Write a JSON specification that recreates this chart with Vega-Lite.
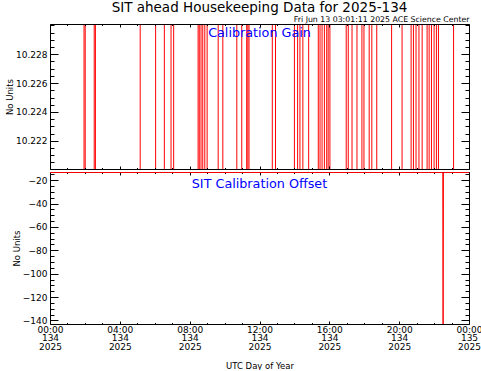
{
  "$schema": "https://vega.github.io/schema/vega-lite/v6.json",
  "background": "white",
  "padding": {"left": 5, "top": 1, "right": 0, "bottom": 0},
  "datasets": {
    "gain": [
      {"t": "2025-05-14T00:00:00Z", "gain": 10.2200},
      {"t": "2025-05-14T01:57:00Z", "gain": 10.2301},
      {"t": "2025-05-14T02:01:00Z", "gain": 10.2200},
      {"t": "2025-05-14T02:32:00Z", "gain": 10.2301},
      {"t": "2025-05-14T02:36:00Z", "gain": 10.2200},
      {"t": "2025-05-14T05:10:00Z", "gain": 10.2301},
      {"t": "2025-05-14T06:03:00Z", "gain": 10.2200},
      {"t": "2025-05-14T06:33:00Z", "gain": 10.2301},
      {"t": "2025-05-14T06:56:00Z", "gain": 10.2200},
      {"t": "2025-05-14T07:05:00Z", "gain": 10.2301},
      {"t": "2025-05-14T08:29:00Z", "gain": 10.2200},
      {"t": "2025-05-14T08:33:00Z", "gain": 10.2301},
      {"t": "2025-05-14T08:39:00Z", "gain": 10.2200},
      {"t": "2025-05-14T08:45:00Z", "gain": 10.2301},
      {"t": "2025-05-14T08:52:00Z", "gain": 10.2200},
      {"t": "2025-05-14T09:00:00Z", "gain": 10.2301},
      {"t": "2025-05-14T09:38:00Z", "gain": 10.2200},
      {"t": "2025-05-14T09:54:00Z", "gain": 10.2301},
      {"t": "2025-05-14T10:42:00Z", "gain": 10.2200},
      {"t": "2025-05-14T10:59:00Z", "gain": 10.2301},
      {"t": "2025-05-14T11:16:00Z", "gain": 10.2200},
      {"t": "2025-05-14T11:20:00Z", "gain": 10.2301},
      {"t": "2025-05-14T11:24:00Z", "gain": 10.2200},
      {"t": "2025-05-14T12:44:00Z", "gain": 10.2301},
      {"t": "2025-05-14T12:55:00Z", "gain": 10.2200},
      {"t": "2025-05-14T14:00:00Z", "gain": 10.2301},
      {"t": "2025-05-14T14:11:00Z", "gain": 10.2200},
      {"t": "2025-05-14T14:19:00Z", "gain": 10.2301},
      {"t": "2025-05-14T14:29:00Z", "gain": 10.2200},
      {"t": "2025-05-14T14:49:00Z", "gain": 10.2301},
      {"t": "2025-05-14T15:22:00Z", "gain": 10.2200},
      {"t": "2025-05-14T15:28:00Z", "gain": 10.2301},
      {"t": "2025-05-14T15:35:00Z", "gain": 10.2200},
      {"t": "2025-05-14T15:43:00Z", "gain": 10.2301},
      {"t": "2025-05-14T15:51:00Z", "gain": 10.2200},
      {"t": "2025-05-14T15:56:00Z", "gain": 10.2301},
      {"t": "2025-05-14T16:02:00Z", "gain": 10.2200},
      {"t": "2025-05-14T16:58:00Z", "gain": 10.2301},
      {"t": "2025-05-14T17:05:00Z", "gain": 10.2200},
      {"t": "2025-05-14T17:18:00Z", "gain": 10.2301},
      {"t": "2025-05-14T17:35:00Z", "gain": 10.2200},
      {"t": "2025-05-14T17:52:00Z", "gain": 10.2301},
      {"t": "2025-05-14T17:59:00Z", "gain": 10.2200},
      {"t": "2025-05-14T18:17:00Z", "gain": 10.2301},
      {"t": "2025-05-14T18:26:00Z", "gain": 10.2200},
      {"t": "2025-05-14T18:43:00Z", "gain": 10.2301},
      {"t": "2025-05-14T19:34:00Z", "gain": 10.2200},
      {"t": "2025-05-14T20:10:00Z", "gain": 10.2301},
      {"t": "2025-05-14T20:41:00Z", "gain": 10.2200},
      {"t": "2025-05-14T20:49:00Z", "gain": 10.2301},
      {"t": "2025-05-14T20:58:00Z", "gain": 10.2200},
      {"t": "2025-05-14T21:08:00Z", "gain": 10.2301},
      {"t": "2025-05-14T21:19:00Z", "gain": 10.2200},
      {"t": "2025-05-14T21:36:00Z", "gain": 10.2301},
      {"t": "2025-05-14T21:43:00Z", "gain": 10.2200},
      {"t": "2025-05-14T21:51:00Z", "gain": 10.2301},
      {"t": "2025-05-14T22:00:00Z", "gain": 10.2200},
      {"t": "2025-05-14T22:08:00Z", "gain": 10.2301},
      {"t": "2025-05-14T22:15:00Z", "gain": 10.2200},
      {"t": "2025-05-14T23:07:00Z", "gain": 10.2301},
      {"t": "2025-05-15T00:00:00Z", "gain": 10.2301}
    ],
    "offset": [
      {"t": "2025-05-14T00:00:00Z", "offset": -13.4},
      {"t": "2025-05-14T22:30:00Z", "offset": -13.4},
      {"t": "2025-05-14T22:31:00Z", "offset": -143},
      {"t": "2025-05-14T22:32:00Z", "offset": -13.4},
      {"t": "2025-05-15T00:00:00Z", "offset": -13.4}
    ],
    "labels": [
      {"panel": "gain", "label": "Calibration Gain", "t": "2025-05-14T12:00:00Z", "v": 10.2295},
      {"panel": "offset", "label": "SIT Calibration Offset", "t": "2025-05-14T12:00:00Z", "v": -23}
    ]
  },
  "spacing": 1,
  "vconcat": [
    {
      "width": 419,
      "height": 145,
      "title": {"text": "SIT ahead Housekeeping Data for 2025-134", "anchor": "middle", "fontSize": 13.5, "offset": 1},
      "resolve": {"axis": {"x": "independent", "y": "independent"}},
      "layer": [
        {
          "data": {"name": "gain"},
          "mark": {"type": "line", "color": "#ff0000", "strokeWidth": 1, "interpolate": "step-after", "clip": true},
          "encoding": {
            "x": {"field": "t", "type": "temporal",
              "scale": {"type": "utc", "domain": [{"year": 2025, "month": 5, "date": 14, "utc": true}, {"year": 2025, "month": 5, "date": 15, "utc": true}]},
              "axis": {"orient": "bottom", "values": [{"year": 2025, "month": 5, "date": 14, "hours": 0, "utc": true}, {"year": 2025, "month": 5, "date": 14, "hours": 4, "utc": true}, {"year": 2025, "month": 5, "date": 14, "hours": 8, "utc": true}, {"year": 2025, "month": 5, "date": 14, "hours": 12, "utc": true}, {"year": 2025, "month": 5, "date": 14, "hours": 16, "utc": true}, {"year": 2025, "month": 5, "date": 14, "hours": 20, "utc": true}, {"year": 2025, "month": 5, "date": 15, "hours": 0, "utc": true}], "labels": false, "tickSize": -3, "title": null, "zindex": 1}},
            "y": {"field": "gain", "type": "quantitative",
              "scale": {"domain": [10.22004, 10.2301], "zero": false, "nice": false},
              "axis": {"orient": "left", "values": [10.222, 10.224, 10.226, 10.228], "format": ".3f", "tickSize": -8, "labelPadding": 11, "title": "No Units", "titlePadding": 1, "zindex": 1}}
          }
        },
        {
          "data": {"name": "gain"},
          "mark": {"type": "line", "opacity": 0},
          "encoding": {
            "x": {"field": "t", "type": "temporal", "axis": {"orient": "bottom", "values": [{"year": 2025, "month": 5, "date": 14, "hours": 1, "utc": true}, {"year": 2025, "month": 5, "date": 14, "hours": 2, "utc": true}, {"year": 2025, "month": 5, "date": 14, "hours": 3, "utc": true}, {"year": 2025, "month": 5, "date": 14, "hours": 5, "utc": true}, {"year": 2025, "month": 5, "date": 14, "hours": 6, "utc": true}, {"year": 2025, "month": 5, "date": 14, "hours": 7, "utc": true}, {"year": 2025, "month": 5, "date": 14, "hours": 9, "utc": true}, {"year": 2025, "month": 5, "date": 14, "hours": 10, "utc": true}, {"year": 2025, "month": 5, "date": 14, "hours": 11, "utc": true}, {"year": 2025, "month": 5, "date": 14, "hours": 13, "utc": true}, {"year": 2025, "month": 5, "date": 14, "hours": 14, "utc": true}, {"year": 2025, "month": 5, "date": 14, "hours": 15, "utc": true}, {"year": 2025, "month": 5, "date": 14, "hours": 17, "utc": true}, {"year": 2025, "month": 5, "date": 14, "hours": 18, "utc": true}, {"year": 2025, "month": 5, "date": 14, "hours": 19, "utc": true}, {"year": 2025, "month": 5, "date": 14, "hours": 21, "utc": true}, {"year": 2025, "month": 5, "date": 14, "hours": 22, "utc": true}, {"year": 2025, "month": 5, "date": 14, "hours": 23, "utc": true}], "labels": false, "domain": false, "tickSize": -1.5, "title": null, "zindex": 1}},
            "y": {"field": "gain", "type": "quantitative", "axis": {"orient": "left", "values": [10.2205, 10.221, 10.2215, 10.2225, 10.223, 10.2235, 10.2245, 10.225, 10.2255, 10.2265, 10.227, 10.2275, 10.2285, 10.229, 10.2295, 10.23], "labels": false, "domain": false, "tickSize": -4, "title": null, "zindex": 1}}
          }
        },
        {
          "data": {"name": "gain"},
          "mark": {"type": "line", "opacity": 0},
          "encoding": {
            "x": {"field": "t", "type": "temporal", "axis": {"orient": "top", "values": [{"year": 2025, "month": 5, "date": 14, "hours": 0, "utc": true}, {"year": 2025, "month": 5, "date": 14, "hours": 4, "utc": true}, {"year": 2025, "month": 5, "date": 14, "hours": 8, "utc": true}, {"year": 2025, "month": 5, "date": 14, "hours": 12, "utc": true}, {"year": 2025, "month": 5, "date": 14, "hours": 16, "utc": true}, {"year": 2025, "month": 5, "date": 14, "hours": 20, "utc": true}, {"year": 2025, "month": 5, "date": 15, "hours": 0, "utc": true}], "labels": false, "tickSize": -3, "title": "Fri Jun 13 03:01:11 2025 ACE Science Center", "titleAnchor": "end", "titleFontSize": 7.8, "titlePadding": 0, "zindex": 1}},
            "y": {"field": "gain", "type": "quantitative", "axis": {"orient": "right", "values": [10.222, 10.224, 10.226, 10.228], "labels": false, "tickSize": -8, "title": null, "zindex": 1}}
          }
        },
        {
          "data": {"name": "gain"},
          "mark": {"type": "line", "opacity": 0},
          "encoding": {
            "x": {"field": "t", "type": "temporal", "axis": {"orient": "top", "values": [{"year": 2025, "month": 5, "date": 14, "hours": 1, "utc": true}, {"year": 2025, "month": 5, "date": 14, "hours": 2, "utc": true}, {"year": 2025, "month": 5, "date": 14, "hours": 3, "utc": true}, {"year": 2025, "month": 5, "date": 14, "hours": 5, "utc": true}, {"year": 2025, "month": 5, "date": 14, "hours": 6, "utc": true}, {"year": 2025, "month": 5, "date": 14, "hours": 7, "utc": true}, {"year": 2025, "month": 5, "date": 14, "hours": 9, "utc": true}, {"year": 2025, "month": 5, "date": 14, "hours": 10, "utc": true}, {"year": 2025, "month": 5, "date": 14, "hours": 11, "utc": true}, {"year": 2025, "month": 5, "date": 14, "hours": 13, "utc": true}, {"year": 2025, "month": 5, "date": 14, "hours": 14, "utc": true}, {"year": 2025, "month": 5, "date": 14, "hours": 15, "utc": true}, {"year": 2025, "month": 5, "date": 14, "hours": 17, "utc": true}, {"year": 2025, "month": 5, "date": 14, "hours": 18, "utc": true}, {"year": 2025, "month": 5, "date": 14, "hours": 19, "utc": true}, {"year": 2025, "month": 5, "date": 14, "hours": 21, "utc": true}, {"year": 2025, "month": 5, "date": 14, "hours": 22, "utc": true}, {"year": 2025, "month": 5, "date": 14, "hours": 23, "utc": true}], "labels": false, "domain": false, "tickSize": -1.5, "title": null, "zindex": 1}},
            "y": {"field": "gain", "type": "quantitative", "axis": {"orient": "right", "values": [10.2205, 10.221, 10.2215, 10.2225, 10.223, 10.2235, 10.2245, 10.225, 10.2255, 10.2265, 10.227, 10.2275, 10.2285, 10.229, 10.2295, 10.23], "labels": false, "domain": false, "tickSize": -4, "title": null, "zindex": 1}}
          }
        },
        {
          "data": {"name": "labels"},
          "transform": [{"filter": "datum.panel == 'gain'"}],
          "mark": {"type": "text", "color": "#0000ff", "fontSize": 12.75, "align": "center", "baseline": "middle"},
          "encoding": {
            "text": {"field": "label"},
            "x": {"field": "t", "type": "temporal", "axis": null},
            "y": {"field": "v", "type": "quantitative", "axis": null}
          }
        }
      ]
    },
    {
      "width": 419,
      "height": 152,
      "resolve": {"axis": {"x": "independent", "y": "independent"}},
      "layer": [
        {
          "data": {"name": "offset"},
          "mark": {"type": "line", "color": "#ff0000", "strokeWidth": 1, "clip": true},
          "encoding": {
            "x": {"field": "t", "type": "temporal",
              "scale": {"type": "utc", "domain": [{"year": 2025, "month": 5, "date": 14, "utc": true}, {"year": 2025, "month": 5, "date": 15, "utc": true}]},
              "axis": {"orient": "bottom", "values": [{"year": 2025, "month": 5, "date": 14, "hours": 0, "utc": true}, {"year": 2025, "month": 5, "date": 14, "hours": 4, "utc": true}, {"year": 2025, "month": 5, "date": 14, "hours": 8, "utc": true}, {"year": 2025, "month": 5, "date": 14, "hours": 12, "utc": true}, {"year": 2025, "month": 5, "date": 14, "hours": 16, "utc": true}, {"year": 2025, "month": 5, "date": 14, "hours": 20, "utc": true}, {"year": 2025, "month": 5, "date": 15, "hours": 0, "utc": true}], "tickSize": -3, "labelPadding": 4, "labelExpr": "[utcFormat(datum.value, '%H:%M'), utcFormat(datum.value, '%j'), utcFormat(datum.value, '%Y')]", "labelFlush": false, "labelOverlap": false, "labelBaseline": "top", "labelLineHeight": 8.5, "title": "UTC Day of Year", "titlePadding": 10}},
            "y": {"field": "offset", "type": "quantitative",
              "scale": {"domain": [-143, -13], "zero": false, "nice": false},
              "axis": {"orient": "left", "values": [-20, -40, -60, -80, -100, -120, -140], "tickSize": -8, "labelPadding": 11, "title": "No Units", "titlePadding": 1}}
          }
        },
        {
          "data": {"name": "offset"},
          "mark": {"type": "line", "opacity": 0},
          "encoding": {
            "x": {"field": "t", "type": "temporal", "axis": {"orient": "bottom", "values": [{"year": 2025, "month": 5, "date": 14, "hours": 1, "utc": true}, {"year": 2025, "month": 5, "date": 14, "hours": 2, "utc": true}, {"year": 2025, "month": 5, "date": 14, "hours": 3, "utc": true}, {"year": 2025, "month": 5, "date": 14, "hours": 5, "utc": true}, {"year": 2025, "month": 5, "date": 14, "hours": 6, "utc": true}, {"year": 2025, "month": 5, "date": 14, "hours": 7, "utc": true}, {"year": 2025, "month": 5, "date": 14, "hours": 9, "utc": true}, {"year": 2025, "month": 5, "date": 14, "hours": 10, "utc": true}, {"year": 2025, "month": 5, "date": 14, "hours": 11, "utc": true}, {"year": 2025, "month": 5, "date": 14, "hours": 13, "utc": true}, {"year": 2025, "month": 5, "date": 14, "hours": 14, "utc": true}, {"year": 2025, "month": 5, "date": 14, "hours": 15, "utc": true}, {"year": 2025, "month": 5, "date": 14, "hours": 17, "utc": true}, {"year": 2025, "month": 5, "date": 14, "hours": 18, "utc": true}, {"year": 2025, "month": 5, "date": 14, "hours": 19, "utc": true}, {"year": 2025, "month": 5, "date": 14, "hours": 21, "utc": true}, {"year": 2025, "month": 5, "date": 14, "hours": 22, "utc": true}, {"year": 2025, "month": 5, "date": 14, "hours": 23, "utc": true}], "labels": false, "domain": false, "tickSize": -1.5, "title": null}},
            "y": {"field": "offset", "type": "quantitative", "axis": {"orient": "left", "values": [-15, -25, -30, -35, -45, -50, -55, -65, -70, -75, -85, -90, -95, -105, -110, -115, -125, -130, -135], "labels": false, "domain": false, "tickSize": -4, "title": null}}
          }
        },
        {
          "data": {"name": "offset"},
          "mark": {"type": "line", "opacity": 0},
          "encoding": {
            "x": {"field": "t", "type": "temporal", "axis": {"orient": "top", "values": [{"year": 2025, "month": 5, "date": 14, "hours": 0, "utc": true}, {"year": 2025, "month": 5, "date": 14, "hours": 4, "utc": true}, {"year": 2025, "month": 5, "date": 14, "hours": 8, "utc": true}, {"year": 2025, "month": 5, "date": 14, "hours": 12, "utc": true}, {"year": 2025, "month": 5, "date": 14, "hours": 16, "utc": true}, {"year": 2025, "month": 5, "date": 14, "hours": 20, "utc": true}, {"year": 2025, "month": 5, "date": 15, "hours": 0, "utc": true}], "labels": false, "tickSize": -3, "title": null}},
            "y": {"field": "offset", "type": "quantitative", "axis": {"orient": "right", "values": [-20, -40, -60, -80, -100, -120, -140], "labels": false, "tickSize": -8, "title": null}}
          }
        },
        {
          "data": {"name": "offset"},
          "mark": {"type": "line", "opacity": 0},
          "encoding": {
            "x": {"field": "t", "type": "temporal", "axis": {"orient": "top", "values": [{"year": 2025, "month": 5, "date": 14, "hours": 1, "utc": true}, {"year": 2025, "month": 5, "date": 14, "hours": 2, "utc": true}, {"year": 2025, "month": 5, "date": 14, "hours": 3, "utc": true}, {"year": 2025, "month": 5, "date": 14, "hours": 5, "utc": true}, {"year": 2025, "month": 5, "date": 14, "hours": 6, "utc": true}, {"year": 2025, "month": 5, "date": 14, "hours": 7, "utc": true}, {"year": 2025, "month": 5, "date": 14, "hours": 9, "utc": true}, {"year": 2025, "month": 5, "date": 14, "hours": 10, "utc": true}, {"year": 2025, "month": 5, "date": 14, "hours": 11, "utc": true}, {"year": 2025, "month": 5, "date": 14, "hours": 13, "utc": true}, {"year": 2025, "month": 5, "date": 14, "hours": 14, "utc": true}, {"year": 2025, "month": 5, "date": 14, "hours": 15, "utc": true}, {"year": 2025, "month": 5, "date": 14, "hours": 17, "utc": true}, {"year": 2025, "month": 5, "date": 14, "hours": 18, "utc": true}, {"year": 2025, "month": 5, "date": 14, "hours": 19, "utc": true}, {"year": 2025, "month": 5, "date": 14, "hours": 21, "utc": true}, {"year": 2025, "month": 5, "date": 14, "hours": 22, "utc": true}, {"year": 2025, "month": 5, "date": 14, "hours": 23, "utc": true}], "labels": false, "domain": false, "tickSize": -1.5, "title": null}},
            "y": {"field": "offset", "type": "quantitative", "axis": {"orient": "right", "values": [-15, -25, -30, -35, -45, -50, -55, -65, -70, -75, -85, -90, -95, -105, -110, -115, -125, -130, -135], "labels": false, "domain": false, "tickSize": -4, "title": null}}
          }
        },
        {
          "data": {"name": "labels"},
          "transform": [{"filter": "datum.panel == 'offset'"}],
          "mark": {"type": "text", "color": "#0000ff", "fontSize": 12.75, "align": "center", "baseline": "middle"},
          "encoding": {
            "text": {"field": "label"},
            "x": {"field": "t", "type": "temporal", "axis": null},
            "y": {"field": "v", "type": "quantitative", "axis": null}
          }
        }
      ]
    }
  ],
  "config": {
    "view": {"stroke": null},
    "font": "DejaVu Sans",
    "text": {"font": "DejaVu Sans"},
    "axis": {"labelFont": "DejaVu Sans", "labelFontSize": 9, "labelColor": "black", "titleFont": "DejaVu Sans", "titleFontSize": 8.5, "titleFontWeight": "normal", "titleColor": "black", "domainColor": "black", "tickColor": "black", "grid": false, "domainWidth": 1, "tickWidth": 1},
    "title": {"font": "DejaVu Sans", "fontWeight": "normal", "color": "black"}
  }
}
